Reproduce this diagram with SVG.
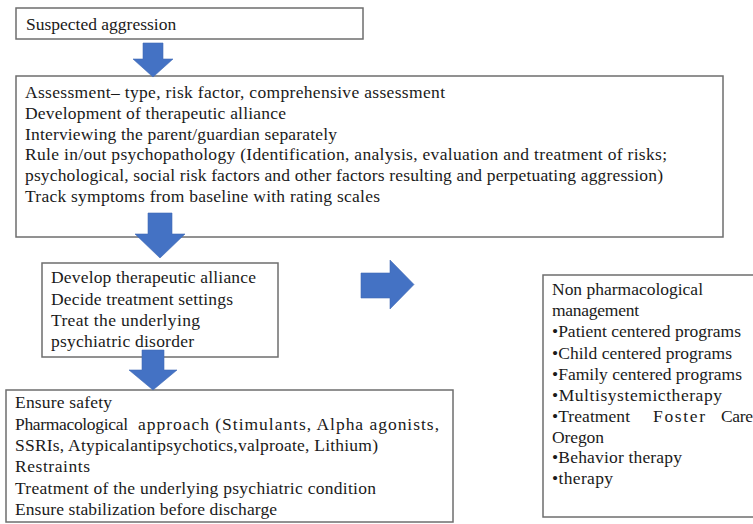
<svg xmlns="http://www.w3.org/2000/svg" width="753" height="524" viewBox="0 0 753 524">
<style>
.box{fill:#ffffff;stroke:#6e6e6e;stroke-width:1.5}
.t{font-size:17.5px;fill:#1a1a1a}
.arr{fill:#4472c4;stroke:#3f69b6;stroke-width:0.6}
</style>
<rect x="0" y="0" width="753" height="524" fill="#ffffff"/>
<g font-family="Liberation Serif, Times New Roman, serif">
<g id="node-suspected">
<rect class="box" x="16" y="8" width="347" height="31"/>
<text class="t" x="26" y="30">Suspected aggression</text>
</g>
<g id="node-assessment">
<rect class="box" x="16" y="76" width="707" height="161"/>
<text class="t" x="25" y="98" textLength="420" lengthAdjust="spacing">Assessment– type, risk factor, comprehensive assessment</text>
<text class="t" x="25" y="118.5" textLength="261" lengthAdjust="spacing">Development of therapeutic alliance</text>
<text class="t" x="25" y="139.5" textLength="312" lengthAdjust="spacing">Interviewing the parent/guardian separately</text>
<text class="t" x="25" y="160" textLength="642" lengthAdjust="spacing">Rule in/out psychopathology (Identification, analysis, evaluation and treatment of risks;</text>
<text class="t" x="25" y="181" textLength="638" lengthAdjust="spacing">psychological, social risk factors and other factors resulting and perpetuating aggression)</text>
<text class="t" x="25" y="202" textLength="355" lengthAdjust="spacing">Track symptoms from baseline with rating scales</text>
</g>
<g id="node-develop">
<rect class="box" x="42" y="263" width="236" height="94"/>
<text class="t" x="51" y="283" textLength="205" lengthAdjust="spacing">Develop therapeutic alliance</text>
<text class="t" x="51" y="304.5" textLength="182" lengthAdjust="spacing">Decide treatment settings</text>
<text class="t" x="51" y="325.5" textLength="149" lengthAdjust="spacing">Treat the underlying</text>
<text class="t" x="51" y="346.5" textLength="143" lengthAdjust="spacing">psychiatric disorder</text>
</g>
<g id="node-safety">
<rect class="box" x="6" y="390" width="447" height="132"/>
<text class="t" x="15" y="408" textLength="97" lengthAdjust="spacing">Ensure safety</text>
<text class="t" y="429.5"><tspan x="15" textLength="113" lengthAdjust="spacing">Pharmacological</tspan><tspan x="138" textLength="301" lengthAdjust="spacing">approach (Stimulants, Alpha agonists,</tspan></text>
<text class="t" x="15" y="451" textLength="363" lengthAdjust="spacing">SSRIs, Atypicalantipsychotics,valproate, Lithium)</text>
<text class="t" x="15" y="472" textLength="75" lengthAdjust="spacing">Restraints</text>
<text class="t" x="15" y="493.5" textLength="361" lengthAdjust="spacing">Treatment of the underlying psychiatric condition</text>
<text class="t" x="15" y="515" textLength="262" lengthAdjust="spacing">Ensure stabilization before discharge</text>
</g>
<g id="node-nonpharm">
<rect class="box" x="543" y="275" width="220" height="242"/>
<text class="t" x="552" y="295" textLength="151" lengthAdjust="spacing">Non pharmacological</text>
<text class="t" x="552" y="316" textLength="87" lengthAdjust="spacing">management</text>
<text class="t" x="552" y="337" textLength="189" lengthAdjust="spacing">•Patient centered programs</text>
<text class="t" x="552" y="358.5" textLength="180" lengthAdjust="spacing">•Child centered programs</text>
<text class="t" x="552" y="379.5" textLength="190" lengthAdjust="spacing">•Family centered programs</text>
<text class="t" x="552" y="400.5" textLength="170" lengthAdjust="spacing">•Multisystemictherapy</text>
<text class="t" y="421.5"><tspan x="552" textLength="78" lengthAdjust="spacing">•Treatment</tspan><tspan x="653" textLength="52" lengthAdjust="spacing">Foster</tspan><tspan x="721" textLength="32" lengthAdjust="spacing">Care</tspan></text>
<text class="t" x="552" y="442.5" textLength="52" lengthAdjust="spacing">Oregon</text>
<text class="t" x="552" y="463" textLength="130" lengthAdjust="spacing">•Behavior therapy</text>
<text class="t" x="552" y="484" textLength="61" lengthAdjust="spacing">•therapy</text>
</g>
</g>
<g id="connectors">
<polygon class="arr" points="143,43 163,43 163,59 173,59 153,77 133,59 143,59"/>
<polygon class="arr" points="148,213 172,213 172,234 185,234 160,258 135,234 148,234"/>
<polygon class="arr" points="142,350 164,350 164,370 177,370 153,390 129,370 142,370"/>
<polygon class="arr" points="361,273 390,273 390,260 414,284.5 390,309 390,298 361,298"/>
</g>
</svg>
